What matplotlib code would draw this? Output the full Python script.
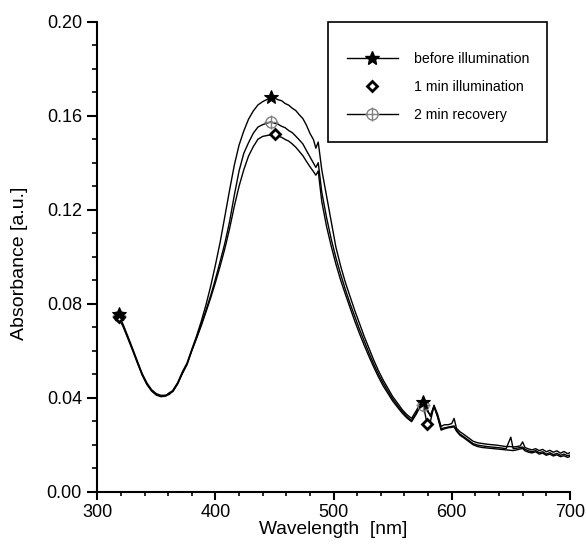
import matplotlib
matplotlib.use("Agg")
import matplotlib.pyplot as plt
from matplotlib.lines import Line2D
from matplotlib.patches import Rectangle

plt.rcParams['font.family'] = ['Liberation Sans', 'DejaVu Sans']

wavelength = [318, 322, 326, 330, 334, 338, 342, 346, 350, 354, 358, 361, 364, 368, 372,
              376, 380, 384, 388, 392, 396, 400, 404, 408, 412, 416, 420, 424, 428, 432,
              436, 440, 444, 447, 450, 453, 456, 459, 462, 465, 468, 471, 474, 477, 480,
              483, 485, 487, 490, 494, 498, 502, 506, 510, 514, 518, 522, 526, 530, 534,
              538, 542, 546, 550, 554, 558, 562, 566, 570, 573, 576, 579, 582, 585, 588,
              591, 594, 597, 600, 602, 604, 607, 610, 614, 618, 622, 626, 630, 634, 638,
              642, 646, 650, 652, 655, 658, 660, 662, 665, 668, 671, 674, 677, 680, 683,
              686, 689, 692, 695, 698, 700]

before = [0.0758, 0.0710, 0.0660, 0.0608, 0.0555, 0.0503, 0.0463, 0.0434, 0.0417, 0.0410,
          0.0411, 0.0418, 0.0432, 0.0464, 0.0510, 0.0548, 0.0606, 0.0662, 0.0725, 0.0795,
          0.0875, 0.0965, 0.1062, 0.1172, 0.1284, 0.1390, 0.1475, 0.1535, 0.1585, 0.1620,
          0.1646, 0.1660, 0.1670, 0.1678, 0.1675, 0.1668, 0.1664, 0.1652, 0.1645, 0.1632,
          0.1622, 0.1604, 0.1588, 0.1560, 0.1525, 0.1498, 0.1462, 0.1488, 0.1370, 0.1260,
          0.1150, 0.1040, 0.0960, 0.0890, 0.0830, 0.0770, 0.0715, 0.0660, 0.0610, 0.0560,
          0.0515, 0.0475, 0.0440, 0.0405, 0.0378, 0.0350, 0.0328, 0.0312, 0.0345, 0.0372,
          0.0382, 0.0355, 0.0320, 0.0368, 0.0330, 0.0278, 0.0285, 0.0285, 0.0290, 0.0312,
          0.0270, 0.0255, 0.0245, 0.0230, 0.0215, 0.0208, 0.0205, 0.0202, 0.0200, 0.0198,
          0.0195, 0.0192, 0.0192, 0.0190, 0.0192, 0.0195, 0.0212, 0.0188, 0.0182, 0.0178,
          0.0183, 0.0175, 0.0180, 0.0170, 0.0176, 0.0168, 0.0174, 0.0164, 0.0171, 0.0162,
          0.0166]

one_min = [0.0742, 0.0701, 0.0651, 0.0600, 0.0547, 0.0496, 0.0456, 0.0428, 0.0411, 0.0404,
           0.0407, 0.0422, 0.0426, 0.0458, 0.0502, 0.0541, 0.0599, 0.0652, 0.0706, 0.0765,
           0.0825, 0.0890, 0.0960, 0.1035, 0.1120, 0.1215, 0.1300, 0.1370, 0.1428, 0.1468,
           0.1500, 0.1512, 0.1516, 0.1519, 0.1521, 0.1513, 0.1508, 0.1499, 0.1492, 0.1480,
           0.1466, 0.1448, 0.1430, 0.1406, 0.1383, 0.1362, 0.1347, 0.1365, 0.1235, 0.1130,
           0.1045, 0.0968, 0.0900, 0.0840, 0.0782, 0.0725, 0.0672, 0.0622, 0.0575, 0.0530,
           0.0488, 0.0450, 0.0418, 0.0386, 0.0360, 0.0335, 0.0314, 0.0298, 0.0330, 0.0360,
           0.0370, 0.0290, 0.0300, 0.0365, 0.0318, 0.0262, 0.0268, 0.0272, 0.0274, 0.0276,
           0.0258, 0.0240, 0.0230, 0.0215, 0.0200, 0.0192, 0.0188, 0.0186, 0.0184, 0.0182,
           0.0180, 0.0178, 0.0176, 0.0175, 0.0178, 0.0182, 0.0184, 0.0174, 0.0168, 0.0165,
           0.0170, 0.0160, 0.0164, 0.0155, 0.0160, 0.0152, 0.0157, 0.0149, 0.0153, 0.0146,
           0.0150]

recovery = [0.0746, 0.0704, 0.0654, 0.0603, 0.0550, 0.0498, 0.0458, 0.0430, 0.0413, 0.0406,
            0.0408, 0.0414, 0.0428, 0.0460, 0.0505, 0.0544, 0.0602, 0.0655, 0.0712, 0.0772,
            0.0835, 0.0905, 0.0980, 0.1058, 0.1150, 0.1262, 0.1365, 0.1440, 0.1485, 0.1525,
            0.1552, 0.1562, 0.1569, 0.1574, 0.1568, 0.1564, 0.1555, 0.1549, 0.1537, 0.1528,
            0.1513, 0.1497, 0.1480, 0.1452, 0.1425, 0.1398, 0.1380, 0.1400, 0.1275, 0.1168,
            0.1075, 0.0995, 0.0925, 0.0860, 0.0800, 0.0745, 0.0690, 0.0640, 0.0590, 0.0543,
            0.0500, 0.0462, 0.0428, 0.0395, 0.0368, 0.0342, 0.0320, 0.0302, 0.0335, 0.0362,
            0.0368, 0.0345, 0.0325, 0.0362, 0.0322, 0.0268, 0.0272, 0.0275, 0.0278, 0.0280,
            0.0262, 0.0245, 0.0235, 0.0220, 0.0205, 0.0198, 0.0195, 0.0192, 0.0190, 0.0188,
            0.0186, 0.0183, 0.0232, 0.0183, 0.0185, 0.0188, 0.0190, 0.0180, 0.0174, 0.0170,
            0.0175, 0.0166, 0.0170, 0.0160, 0.0166, 0.0158, 0.0163, 0.0155, 0.0160, 0.0153,
            0.0156]

labels = ["before illumination", "1 min illumination", "2 min recovery"]
marks_before = [318, 447, 576]
marks_one_min = [318, 450, 579]
marks_recovery = [318, 447, 576]

fig = plt.figure(figsize=(5.86, 5.50), dpi=100)
ax = fig.add_axes([0.166, 0.106, 0.8065, 0.8545])

idx_b = [wavelength.index(w) for w in marks_before]
idx_m = [wavelength.index(w) for w in marks_one_min]
idx_r = [wavelength.index(w) for w in marks_recovery]

ax.plot(wavelength, recovery, color='black', lw=1.0, zorder=2)
ax.plot(wavelength, one_min, color='black', lw=1.0, zorder=2)
ax.plot(wavelength, before, color='black', lw=1.0, zorder=2)

ax.plot([wavelength[i] for i in idx_r], [recovery[i] for i in idx_r], ls='none',
        marker='o', ms=8, mfc='none', mec='#808080', mew=1.0, zorder=4)
ax.plot([wavelength[i] for i in idx_r], [recovery[i] for i in idx_r], ls='none',
        marker='+', ms=10, mec='#808080', mew=1.0, zorder=4)
ax.plot([wavelength[i] for i in idx_m], [one_min[i] for i in idx_m], ls='none',
        marker='D', ms=5.5, mfc='white', mec='black', mew=2.0, zorder=5)
ax.plot([wavelength[i] for i in idx_b], [before[i] for i in idx_b], ls='none',
        marker='*', ms=10, mfc='black', mec='black', mew=0.8, zorder=5)

ax.set_xlim(300, 700)
ax.set_ylim(0.0, 0.20)
ax.set_xticks([300, 400, 500, 600, 700])
ax.set_xticks(range(300, 701, 20), minor=True)
ax.set_yticks([0.00, 0.04, 0.08, 0.12, 0.16, 0.20])
ax.set_yticklabels(["0.00", "0.04", "0.08", "0.12", "0.16", "0.20"])
ax.set_yticks([i / 100 for i in range(0, 21)], minor=True)

for s in ['top', 'right']:
    ax.spines[s].set_visible(False)
for s in ['left', 'bottom']:
    ax.spines[s].set_linewidth(1.5)

ax.tick_params(axis='y', which='major', direction='out', length=7.5, width=1.5, labelsize=13, pad=3.5)
ax.tick_params(axis='y', which='minor', direction='out', length=3.5, width=1.2)
ax.tick_params(axis='x', which='major', direction='out', length=5.5, width=1.5, labelsize=13, pad=3)
ax.tick_params(axis='x', which='minor', direction='out', length=3.0, width=1.2)

ax.set_xlabel("Wavelength  [nm]", fontsize=13.8, labelpad=0)
ax.set_ylabel("Absorbance [a.u.]", fontsize=14)
ax.yaxis.set_label_coords(-0.146, 0.486)

# legend
h_before = Line2D([], [], color='black', lw=1.0, marker='*', ms=10, mfc='black', mec='black')
h_one = Line2D([], [], ls='none', marker='D', ms=5.5, mfc='white', mec='black', mew=2.0)
h_rec1 = Line2D([], [], color='black', lw=1.0, marker='o', ms=8, mfc='white', mec='#808080')
h_rec2 = Line2D([], [], ls='none', marker='+', ms=10, mec='#808080', mew=1.0)
leg = ax.legend([h_before, h_one, (h_rec1, h_rec2)], labels, loc='upper left',
                bbox_to_anchor=(0.5276, 0.9355), frameon=False, fontsize=10.2,
                borderaxespad=0, borderpad=0, handlelength=3.6, handletextpad=1.15,
                labelspacing=1.0)
ax.add_patch(Rectangle((0.4887, 0.7447), 0.462, 0.2553, transform=ax.transAxes,
                       fill=False, edgecolor='black', lw=1.2, clip_on=False, zorder=6))

fig.savefig("out.png", dpi=100)
